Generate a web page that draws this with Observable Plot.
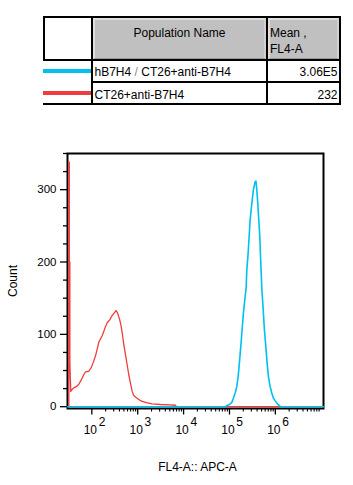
<!DOCTYPE html>
<html>
<head>
<meta charset="utf-8">
<script src="https://cdn.jsdelivr.net/npm/d3@7"></script>
<script src="https://cdn.jsdelivr.net/npm/@observablehq/plot@0.6"></script>
<style>
  html, body { margin: 0; padding: 0; background: #fff; }
  #wrap { position: relative; width: 353px; height: 485px; overflow: hidden; font-family: "Liberation Sans", Arial, sans-serif; color: #000; }
  .ln { position: absolute; background: #000; }
  .gray { position: absolute; background: #c0c0c0; box-sizing: border-box; border-top: 2px solid #dedede; border-left: 2px solid #dedede; border-right: 2px solid #d0d0d0; border-bottom: 1px solid #9a9a9a; }
  .t { position: absolute; font-size: 12px; line-height: 12px; white-space: nowrap; }
  #chart { position: absolute; left: 0; top: 130px; }
</style>
</head>
<body>
<div id="wrap">
  <div id="legend"></div>
  <div id="chart"></div>
</div>
<script>
// ---- legend table content ----
const tableHeader = ["Population Name", "Mean ,", "FL4-A"];
const seriesNames = ["hB7H4 / CT26+anti-B7H4", "CT26+anti-B7H4"];
const seriesMeans = ["3.06E5", "232"];
const seriesColors = ["#00c0f0", "#f03c3c"];

// ---- histogram data (FL4-A value, count) ----
const blueX = [29.6, 80000, 87700, 100000, 112800, 122200, 133000, 144800, 154600, 164900, 176900, 188800, 201500,
  219300, 230500, 238700, 255100, 268000, 281800, 306900, 332600, 362300, 378000, 394400, 414000, 435500,
  458000, 472000, 488800, 506000, 521300, 548000, 576400, 618000, 660000, 705000, 767600, 835600, 905000,
  1000000, 1105000, 1222000, 1300000, 11200000];
const blueCount = [0, 0, 1.5, 3, 6, 12, 19, 28, 42, 61, 84, 107, 130,
  152, 164, 189, 212, 235, 258, 281, 300, 311, 312, 300, 281, 258,
  235, 212, 189, 164, 152, 130, 107, 84, 61, 42, 28, 19, 12,
  7.7, 4, 1.5, 0, 0];

const redX = [31.6, 31.6, 32.3, 32.3, 33.2, 33.2, 34.0, 34.8, 37.5, 40.6, 46.5, 52.1, 58.9, 67.0, 72.9, 86.1, 97.0,
  110, 120, 131, 142, 155, 168, 182, 199, 216, 246, 277, 311, 339, 367, 406, 436, 472, 497,
  541, 589, 637, 693, 755, 818, 937, 1051, 1247, 1546, 2056, 3113, 5000, 6607, 7000, 11200000];
const redCount = [0, 338, 338, 200, 200, 61, 40, 21, 24, 26, 28, 31, 37, 44.5, 48, 49, 54,
  63, 70, 80, 89, 94, 98, 104, 111, 116, 120, 126, 130, 133, 129, 120, 111, 97, 86,
  72, 58, 44.5, 33, 21.5, 15.6, 12.4, 10, 7.3, 5.5, 4, 3, 2.5, 2, 0, 0];

// ---- axis values ----
const yMajor = [0, 100, 200, 300];
const yMinor = [25, 50, 75, 125, 150, 175, 225, 250, 275, 325, 350];
const xMajor = [1e2, 1e3, 1e4, 1e5, 1e6];
const xMinor = [];
for (let e = 2; e <= 6; e++) for (let m = 2; m <= 9; m++) xMinor.push(m * Math.pow(10, e));
const xLabel = "FL4-A:: APC-A";
const yLabel = "Count";

// ---- legend table (HTML) ----
const L = document.getElementById("legend");
function add(cls, css, text, html) {
  const d = document.createElement("div");
  d.className = cls;
  d.style.cssText = css;
  if (html) d.innerHTML = html; else if (text != null) d.textContent = text;
  L.appendChild(d);
  return d;
}
// gray header cells
add("gray", "left:93px;top:18px;width:173px;height:41px;");
add("gray", "left:268px;top:18px;width:71px;height:41px;");
// grid lines
add("ln", "left:43px;top:16px;width:298px;height:2px;");
add("ln", "left:43px;top:59px;width:298px;height:2px;");
add("ln", "left:91px;top:81px;width:250px;height:2px;");
add("ln", "left:43px;top:103px;width:298px;height:2px;");
add("ln", "left:43px;top:16px;width:2px;height:45px;");
add("ln", "left:91px;top:16px;width:2px;height:89px;");
add("ln", "left:266px;top:16px;width:2px;height:89px;");
add("ln", "left:339px;top:16px;width:2px;height:89px;");
// legend swatches
add("ln", `left:43px;top:69px;width:48px;height:4px;background:${seriesColors[0]};`);
add("ln", `left:43px;top:91px;width:48px;height:4px;background:${seriesColors[1]};`);
// header text
add("t", "left:93px;top:26.5px;width:173px;text-align:center;", tableHeader[0]);
add("t", "left:270px;top:26.5px;", tableHeader[1]);
add("t", "left:270px;top:43px;", tableHeader[2]);
// rows
add("t", "left:94.5px;top:65.8px;", null, seriesNames[0].replace(" / ", ' <span style="color:#8a8a8a">/</span> '));
add("t", "left:94.5px;top:89px;", seriesNames[1]);
add("t", "left:268px;top:65.8px;width:69.5px;text-align:right;", seriesMeans[0]);
add("t", "left:268px;top:89px;width:69.5px;text-align:right;", seriesMeans[1]);

// ---- chart ----
const blue = blueX.map((x, i) => ({x, y: blueCount[i]}));
const red = redX.map((x, i) => ({x, y: redCount[i]}));

const chart = Plot.plot({
  width: 353,
  height: 355,
  marginLeft: 67,
  marginRight: 30,
  marginTop: 23,
  marginBottom: 77,
  x: {type: "log", domain: [29.5, 1.12e7]},
  y: {domain: [-2.5, 350]},
  style: {fontFamily: "'Liberation Sans', Arial, sans-serif", fontSize: "11.5px", color: "#000", background: "transparent", overflow: "visible"},
  marks: [
    Plot.frame({stroke: "#000", strokeWidth: 2}),
    Plot.line(red, {x: "x", y: "y", stroke: seriesColors[1], strokeWidth: 1.3, curve: "linear"}),
    Plot.line(blue, {x: "x", y: "y", stroke: seriesColors[0], strokeWidth: 1.6, curve: "linear"}),
    Plot.axisY({ticks: yMajor, tickSize: 7, tickPadding: 4, label: null, fontSize: 11.5, strokeWidth: 1.3}),
    Plot.axisY({ticks: yMinor, tickSize: 4, text: null, label: null, strokeWidth: 1.3}),
    Plot.axisX({ticks: xMajor, tickSize: 6.5, text: null, label: null, strokeWidth: 1.3}),
    Plot.axisX({ticks: xMinor, tickSize: 3.5, text: null, label: null, strokeWidth: 1.1}),
    Plot.text(xMajor, {x: d => d, frameAnchor: "bottom", text: d => "10", dx: -1.5, dy: 25, lineAnchor: "bottom", textAnchor: "middle", fontSize: 12}),
    Plot.text(xMajor, {x: d => d, frameAnchor: "bottom", text: d => String(Math.round(Math.log10(d))), dx: 6.8, dy: 17.3, lineAnchor: "bottom", textAnchor: "start", fontSize: 12}),
    Plot.text([yLabel], {text: d => d, frameAnchor: "left", dx: -54, rotate: -90, fontSize: 12, textAnchor: "middle"}),
    Plot.text([xLabel], {text: d => d, frameAnchor: "bottom", dx: 2, dy: 62.5, lineAnchor: "bottom", textAnchor: "middle", fontSize: 12})
  ]
});
document.getElementById("chart").appendChild(chart);
</script>
</body>
</html>
